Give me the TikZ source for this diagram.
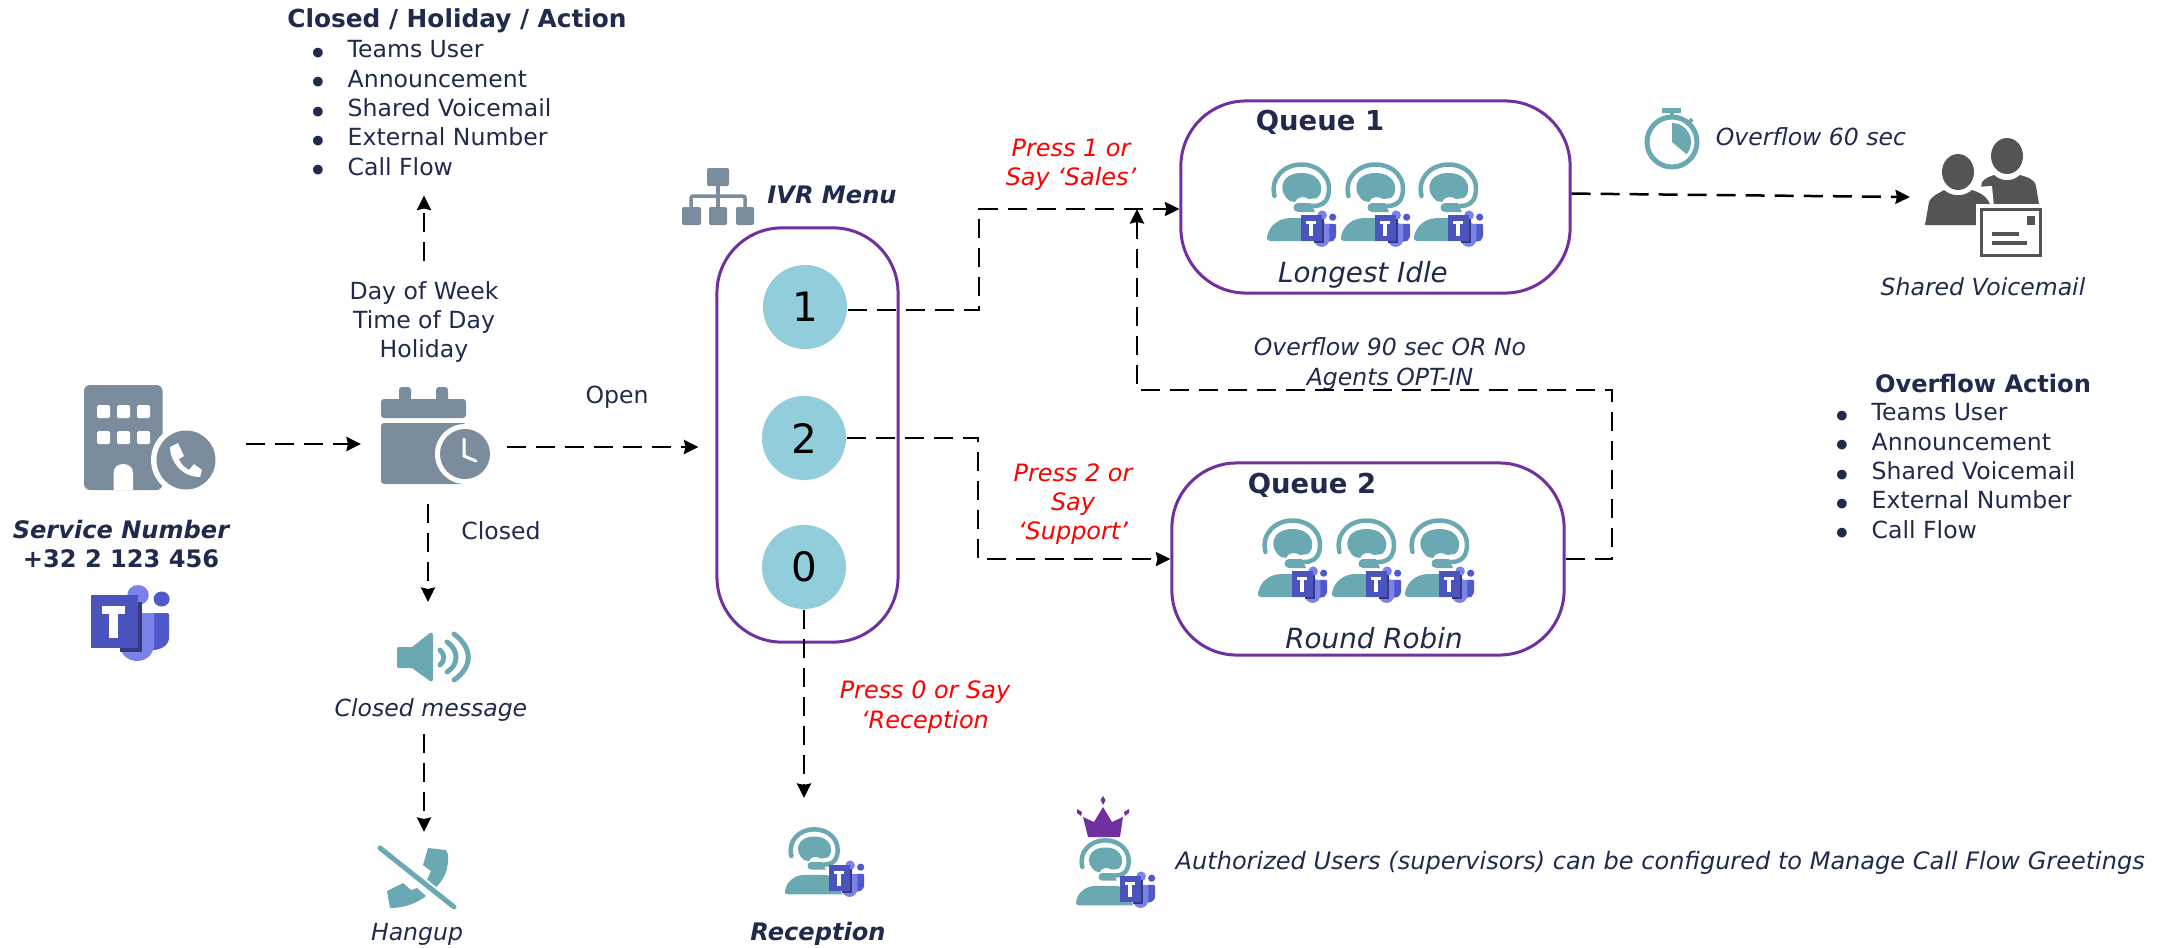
\documentclass[tikz,border=0pt]{standalone}
\usepackage{fontspec}
\setmainfont{DejaVu Sans}
\usetikzlibrary{arrows.meta}

\definecolor{navytext}{HTML}{1F2A4D}
\definecolor{boxpurple}{HTML}{7030A0}
\definecolor{menublue}{HTML}{92CDDC}
\definecolor{slategrey}{HTML}{7B8C9D}
\definecolor{iconteal}{HTML}{6BA9B2}
\definecolor{maildark}{HTML}{545454}
\definecolor{teamsdark}{HTML}{4B53BC}
\definecolor{teamsmid}{HTML}{5059C9}
\definecolor{teamslight}{HTML}{7B83EB}
\definecolor{teamsshade}{HTML}{363A80}

\newcommand{\bulletitem}[1]{\makebox[.39cm][l]{\raisebox{-.6ex}{\fontsize{9.5}{8}\selectfont\textbullet}}#1}

\tikzset{
    >={Stealth[length=.145cm,width=.14cm,inset=.015cm]},
    flow/.style={line width=.025cm,dash pattern=on .19cm off .1cm},
    roundbox/.style={rectangle,draw=boxpurple,line width=.03cm,rounded corners=.65cm},
    spot/.style={rectangle,inner sep=0,outer sep=0},
    menuitem/.style={circle,fill=menublue,minimum size=.84cm,inner sep=0,font=\fontsize{11.5}{13}\selectfont},
    plaintext/.style={text=navytext,align=center,font=\fontsize{6.7}{8.33}\selectfont},
    slanttext/.style={text=navytext,align=center,font=\fontsize{6.7}{8.33}\selectfont\itshape},
    boldtext/.style={text=navytext,align=center,font=\fontsize{6.85}{8.33}\selectfont\bfseries},
    boldslant/.style={text=navytext,align=center,font=\fontsize{6.85}{8.33}\selectfont\bfseries\itshape},
    queuetext/.style={text=navytext,font=\fontsize{7.8}{9}\selectfont\bfseries},
    policytext/.style={text=navytext,font=\fontsize{7.9}{9}\selectfont\itshape},
    presstext/.style={text=red,align=center,font=\fontsize{6.8}{8.33}\selectfont\itshape},
    listtext/.style={text=navytext,align=left,inner sep=0,font=\fontsize{6.7}{8.33}\selectfont},
    teams/.pic={
        \fill[teamsmid] (66,17) circle (7.5);
        \fill[teamsmid] (57,31) -- (71,31) .. controls (72.5,31) and (73,32) .. (73,33) -- (73,55) .. controls (73,63) and (66,68) .. (57,68) -- cycle;
        \fill[teamslight] (44,13) circle (10);
        \fill[teamslight] (27,31) -- (59,31) -- (59,62) .. controls (59,72) and (52,79) .. (43,79) .. controls (34,79) and (27,72) .. (27,62) -- cycle;
        \fill[teamsshade] (27,20) rectangle (48,70);
        \fill[teamsdark] (0,13) rectangle (44,66);
        \fill[white] (10,24) rectangle (32,31.5);
        \fill[white] (16.5,24) rectangle (25.5,56);
    },
    agenthead/.pic={
        \draw[iconteal,line width=.045cm,line cap=round] (7.5,33) .. controls (3,15) and (17,1.5) .. (34.5,1.5) .. controls (52,1.5) and (66,15) .. (61,33) .. controls (59,40) and (54,43) .. (46,43);
        \fill[iconteal] (23,38) .. controls (10,29) and (13,10) .. (34.5,10) .. controls (56,10) and (58,29) .. (50,35) -- (42,36) .. controls (38,33) and (30,33) .. (28,39) -- cycle;
        \fill[iconteal] (31,40) -- (44,40) -- (48,49) -- (31,49) .. controls (25,49) and (25,40) .. (31,40) -- cycle;
        \fill[iconteal] (3,78) .. controls (0,78) and (0,76) .. (0,74) .. controls (2,63) and (11,55) .. (24,55) -- (45,55) .. controls (56,55) and (64,64) .. (67,78) -- cycle;
    },
    agent/.pic={
        \pic at (0,0) {agenthead};
        \pic[scale=.48] at (34,46) {teams};
    }
}

\begin{document}
\begin{tikzpicture}[x=.01cm,y=-.01cm]
    \useasboundingbox (0,0) rectangle (2159,948);

    % building and phone
    \node[spot,minimum width=1.92cm,minimum height=1.2cm] (building) at (150,444) {};
    \fill[slategrey,rounded corners=.06cm] (84,385) rectangle (162.5,490);
    \fill[white,rounded corners=.015cm] (97,405) rectangle (110,418);
    \fill[white,rounded corners=.015cm] (117,405) rectangle (130,418);
    \fill[white,rounded corners=.015cm] (137,405) rectangle (150,418);
    \fill[white,rounded corners=.015cm] (97,431) rectangle (110,444);
    \fill[white,rounded corners=.015cm] (117,431) rectangle (130,444);
    \fill[white,rounded corners=.015cm] (137,431) rectangle (150,444);
    \fill[white] (113.5,490) -- (113.5,473) .. controls (113.5,461) and (133,461) .. (133,473) -- (133,490) -- cycle;
    \fill[white] (186,460) circle (35);
    \fill[slategrey] (186,460) circle (29.5);
    \fill[white] (170,447) -- (178,443) -- (184,456) -- (179,459) .. controls (181,465) and (186,468) .. (189,470) -- (194,464) -- (202,470) -- (200,477) .. controls (182,477) and (170,462) .. (170,447) -- cycle;
    \node[boldslant] (service_name) at (121,530) {Service Number};
    \node[boldtext] (service_number) at (121,559) {+32 2 123 456};
    \pic[xscale=1.07] at (91,582) {teams};

    % calendar
    \node[spot,minimum width=1.34cm,minimum height=1.14cm] (calendar) at (428,447) {};
    \fill[slategrey,rounded corners=.03cm] (399,387) rectangle (411,405);
    \fill[slategrey,rounded corners=.03cm] (436,387) rectangle (448,405);
    \fill[slategrey,rounded corners=.03cm] (381,418) -- (381,399) -- (466,399) -- (466,418) -- cycle;
    \fill[slategrey,rounded corners=.03cm] (381,423) -- (381,484) -- (466,484) -- (466,423) -- cycle;
    \fill[white] (465,454) circle (30);
    \fill[slategrey] (465,454) circle (25);
    \draw[white,line width=.03cm,line cap=round] (464,439) -- (464,456) -- (476,461);
    \node[plaintext,inner ysep=.2cm] (day_of_week) at (424,322) {Day of Week\\Time of Day\\Holiday};

    % closed, holiday and action list
    \node[text=navytext,font=\fontsize{7.05}{8.33}\selectfont\bfseries] (holiday_title) at (457,21) {Closed / Holiday / Action};
    \node[listtext,anchor=north west] (holiday_list) at (308,40) {\bulletitem{Teams User}\\\bulletitem{Announcement}\\\bulletitem{Shared Voicemail}\\\bulletitem{External Number}\\\bulletitem{Call Flow}};

    \node[plaintext] (open_label) at (617,397) {Open};
    \node[plaintext] (closed_label) at (501,531) {Closed};

    % closed message
    \fill[iconteal] (399,647) -- (412,647) -- (430,633) .. controls (432,632) and (433,633) .. (433,635) -- (433,679) .. controls (433,681) and (432,682) .. (430,681) -- (412,668) -- (399,668) .. controls (397,668) and (397,667) .. (397,665) -- (397,650) .. controls (397,648) and (397,647) .. (399,647) -- cycle;
    \draw[iconteal,line width=.05cm,line cap=round] (440,650) .. controls (445,654) and (445,661) .. (440,665);
    \draw[iconteal,line width=.05cm,line cap=round] (447,642) .. controls (459,650) and (459,665) .. (447,672);
    \draw[iconteal,line width=.05cm,line cap=round] (454,634) .. controls (473,648) and (473,667) .. (454,680);
    \node[slanttext] (closed_message) at (431,710) {Closed message};

    % hangup
    \node[spot,minimum width=.8cm,minimum height=.1cm] (hangup) at (424,837) {};
    \fill[iconteal] (428,848) -- (446,850) -- (448,854) .. controls (449,870) and (444,880) .. (435,888) -- (427,880) -- (431,871) -- (423,865) -- cycle;
    \fill[iconteal] (387,891) -- (403,883) -- (411,890) -- (417,888) -- (426,896) .. controls (417,903) and (405,908) .. (390,908) -- cycle;
    \draw[white,line width=.09cm] (380,848) -- (454,907);
    \draw[iconteal,line width=.05cm,line cap=round] (380,848) -- (454,907);
    \node[slanttext] (hangup_label) at (417,934) {Hangup};

    % ivr menu
    \node[roundbox,minimum width=1.81cm,minimum height=4.14cm] (menu_box) at (807.5,435) {};
    \node[menuitem] (menu_1) at (805,307) {1};
    \node[menuitem] (menu_2) at (804,438) {2};
    \node[menuitem] (menu_0) at (804,567) {0};
    \fill[slategrey,rounded corners=.02cm] (707,168) rectangle (729,186);
    \fill[slategrey,rounded corners=.02cm] (682,207) rectangle (701,225);
    \fill[slategrey,rounded corners=.02cm] (709,207) rectangle (727,225);
    \fill[slategrey,rounded corners=.02cm] (736,207) rectangle (754,225);
    \draw[slategrey,line width=.035cm] (718,186) -- (718,207);
    \draw[slategrey,line width=.035cm,rounded corners=.02cm] (691,207) -- (691,196) -- (745,196) -- (745,207);
    \node[boldslant] (menu_title) at (832,195) {IVR Menu};

    % queue 1
    \node[roundbox,minimum width=3.89cm,minimum height=1.92cm] (queue_1) at (1375.5,197) {};
    \node[queuetext] (queue_1_title) at (1320,122) {Queue 1};
    \pic at (1267,163) {agent};
    \pic at (1341,163) {agent};
    \pic at (1414,163) {agent};
    \node[policytext] (queue_1_policy) at (1363,275) {Longest Idle};

    % queue 2
    \node[roundbox,minimum width=3.92cm,minimum height=1.92cm] (queue_2) at (1368,559) {};
    \node[queuetext] (queue_2_title) at (1312,485) {Queue 2};
    \pic at (1258,519) {agent};
    \pic at (1332,519) {agent};
    \pic at (1405,519) {agent};
    \node[policytext] (queue_2_policy) at (1374,638) {Round Robin};

    % overflow
    \draw[iconteal,line width=.05cm] (1672,142) circle (25);
    \fill[iconteal] (1672,142) -- (1672,123) arc[start angle=270,end angle=400,radius=19] -- cycle;
    \draw[iconteal,line width=.05cm] (1662,110) -- (1681,110);
    \draw[iconteal,line width=.04cm] (1672,110) -- (1672,117);
    \draw[iconteal,line width=.04cm] (1688,124) -- (1692,119);
    \node[slanttext] (overflow_60) at (1811,137) {Overflow 60 sec};
    \node[slanttext] (overflow_90) at (1390,364) {Overflow 90 sec OR No\\Agents OPT-IN};

    % shared voicemail
    \node[spot,minimum width=1.3cm,minimum height=1.2cm] (voicemail) at (1975,197) {};
    \fill[maildark] (2007,156) ellipse (16 and 18);
    \fill[maildark] (1978,204) -- (1982,182) .. controls (1986,177) and (1992,176) .. (1994,175) .. controls (2002,182) and (2012,182) .. (2020,175) .. controls (2026,177) and (2034,178) .. (2036,186) -- (2039,204) -- cycle;
    \fill[white] (1958,172) ellipse (19 and 21);
    \fill[white] (1920,228) -- (1925,190) -- (1992,186) -- (1996,228) -- cycle;
    \fill[maildark] (1958,172) ellipse (16 and 18);
    \fill[maildark] (1925,225) -- (1929,202) .. controls (1932,195) and (1940,193) .. (1944,190) .. controls (1952,197) and (1964,197) .. (1972,190) .. controls (1978,192) and (1986,195) .. (1990,204) -- (1992,225) -- cycle;
    \fill[white] (1976,204) rectangle (2046,260);
    \draw[maildark,line width=.03cm] (1981.5,209.5) rectangle (2040.5,255.5);
    \fill[maildark] (2027,216) rectangle (2035,225);
    \fill[maildark] (1992,232) rectangle (2019,236);
    \fill[maildark] (1992,241) rectangle (2027,245);
    \node[slanttext] (voicemail_label) at (1983,287) {Shared Voicemail};

    % overflow action list
    \node[boldtext] (overflow_title) at (1983,384) {Overflow Action};
    \node[listtext,anchor=north west] (overflow_list) at (1832,403) {\bulletitem{Teams User}\\\bulletitem{Announcement}\\\bulletitem{Shared Voicemail}\\\bulletitem{External Number}\\\bulletitem{Call Flow}};

    % reception
    \node[spot,minimum width=.83cm,minimum height=1cm] (reception) at (826,848) {};
    \pic[scale=.85] at (785,828) {agenthead};
    \pic[scale=.48] at (829,859) {teams};
    \node[boldslant] (reception_label) at (818,934) {Reception};

    % authorized users
    \fill[boxpurple] (1088,837) -- (1120,837) -- (1123,817) -- (1112,822) -- (1103,807) -- (1094,822) -- (1083,817) -- cycle;
    \fill[boxpurple] (1103,796) -- (1105.5,800) -- (1103,805) -- (1100.5,800) -- cycle;
    \fill[boxpurple] (1077,809) -- (1082,812) -- (1081,816) -- (1077,813) -- cycle;
    \fill[boxpurple] (1129,809) -- (1124,812) -- (1125,816) -- (1129,813) -- cycle;
    \pic[scale=.85] at (1076,839) {agenthead};
    \pic[scale=.48] at (1120,870) {teams};
    \node[slanttext,anchor=west,inner sep=0,font=\fontsize{6.83}{8.33}\selectfont\itshape] (authorized) at (1175,863) {Authorized Users (supervisors) can be configured to Manage Call Flow Greetings};

    % press labels
    \node[presstext] (press_1) at (1071,165) {Press 1 or\\Say ‘Sales’};
    \node[presstext] (press_2) at (1073,504) {Press 2 or\\Say\\‘Support’};
    \node[presstext] (press_0) at (925,707) {Press 0 or Say\\‘Reception};

    % turning points
    \coordinate (sales_turn) at (979,209);
    \coordinate (support_turn) at (978,559);
    \coordinate (overflow_turn) at (1612,390);
    \coordinate (overflow_end) at (1137,209);

    \draw[flow,->] (building.east) -- (building.east -| calendar.west);
    \draw[flow,->,shorten <=.115cm,shorten >=.17cm] (calendar.east) -- (menu_box.west |- calendar.east);
    \draw[flow,->,shorten >=.12cm] (day_of_week.north) -- (day_of_week.north |- holiday_list.south);
    \draw[flow,->] (calendar.south) -- (calendar.south |- 0,602);
    \draw[flow,->] (closed_message.south -| hangup.north) -- (hangup.north);
    \draw[flow,->] (menu_1.-4) -| (sales_turn) -- (sales_turn -| queue_1.west);
    \draw[flow,->] (menu_2.east) -| (support_turn) -- (queue_2.west);
    \draw[flow,->] (menu_0.south) -- (menu_0.south |- reception.north);
    \draw[flow,->] (queue_1.1) -- (voicemail.west);
    \draw[flow,->] (queue_2.east) -| (overflow_turn) -- (overflow_turn -| overflow_end) -- (overflow_end);
\end{tikzpicture}
\end{document}
